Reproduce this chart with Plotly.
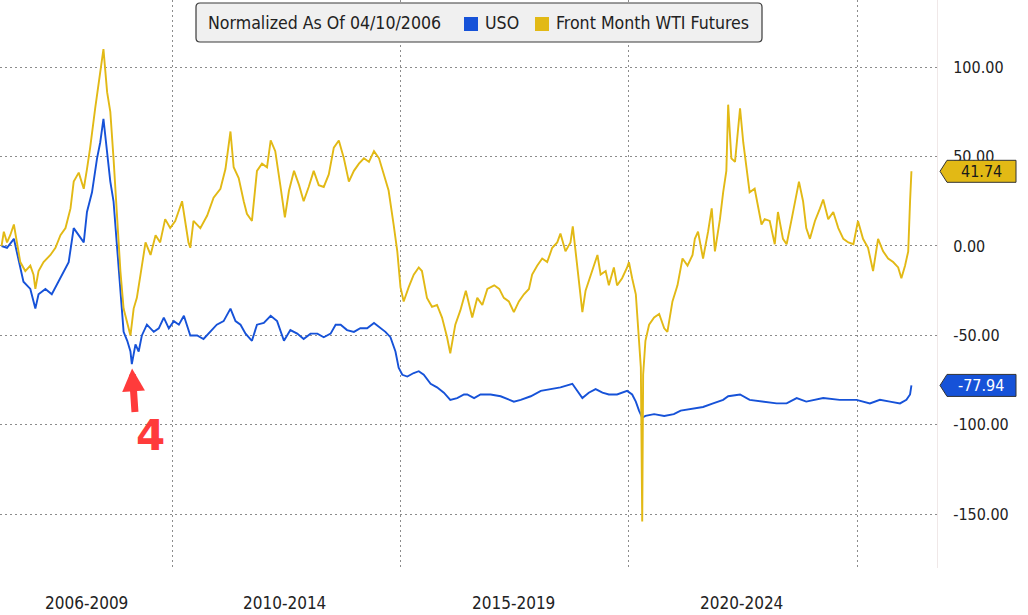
import pandas as pd
import plotly.graph_objects as go

# ---------------- data (decimal-year time, normalized % change) ----------------
wti_t = [2006.27, 2006.32, 2006.39, 2006.46, 2006.54, 2006.61, 2006.68, 2006.79, 2006.90, 2006.97,
         2007.01, 2007.08, 2007.19, 2007.34, 2007.45, 2007.56, 2007.67, 2007.78, 2007.85, 2007.96,
         2008.07, 2008.14, 2008.21, 2008.32, 2008.43, 2008.50, 2008.58, 2008.65, 2008.72, 2008.80,
         2008.87, 2008.94, 2009.02, 2009.09, 2009.16, 2009.23, 2009.31, 2009.42, 2009.53, 2009.64,
         2009.74, 2009.85, 2009.96, 2010.07, 2010.22, 2010.36, 2010.40, 2010.47, 2010.62, 2010.77,
         2010.91, 2011.06, 2011.17, 2011.28, 2011.35, 2011.46, 2011.57, 2011.64, 2011.75, 2011.86,
         2011.97, 2012.08, 2012.16, 2012.26, 2012.37, 2012.47, 2012.56, 2012.67, 2012.78, 2012.88,
         2012.99, 2013.10, 2013.21, 2013.32, 2013.43, 2013.54, 2013.65, 2013.76, 2013.87, 2013.98,
         2014.09, 2014.20, 2014.31, 2014.42, 2014.53, 2014.64, 2014.74, 2014.85, 2014.93, 2015.00,
         2015.07, 2015.18, 2015.29, 2015.40, 2015.47, 2015.58, 2015.69, 2015.80, 2015.91, 2016.02,
         2016.09, 2016.20, 2016.31, 2016.43, 2016.57, 2016.68, 2016.79, 2016.90, 2017.05, 2017.16,
         2017.26, 2017.37, 2017.48, 2017.59, 2017.70, 2017.81, 2017.88, 2017.99, 2018.10, 2018.21,
         2018.32, 2018.43, 2018.50, 2018.61, 2018.72, 2018.77, 2018.83, 2018.91, 2018.98, 2019.05,
         2019.16, 2019.31, 2019.38, 2019.49, 2019.56, 2019.67, 2019.74, 2019.85, 2019.96, 2020.00,
         2020.07, 2020.15, 2020.22, 2020.26, 2020.29, 2020.31, 2020.36, 2020.44, 2020.55, 2020.66,
         2020.77, 2020.84, 2020.95, 2021.06, 2021.17, 2021.28, 2021.39, 2021.44, 2021.51, 2021.62,
         2021.73, 2021.81, 2021.88, 2021.99, 2022.06, 2022.13, 2022.17, 2022.24, 2022.32, 2022.43,
         2022.50, 2022.57, 2022.64, 2022.75, 2022.83, 2022.90, 2022.97, 2023.08, 2023.19, 2023.26,
         2023.37, 2023.45, 2023.56, 2023.67, 2023.72, 2023.81, 2023.88, 2023.96, 2024.07, 2024.18,
         2024.25, 2024.36, 2024.47, 2024.58, 2024.69, 2024.80, 2024.91, 2025.01, 2025.12, 2025.23,
         2025.34, 2025.45, 2025.56, 2025.67, 2025.78, 2025.89, 2025.96, 2026.04, 2026.11, 2026.15,
         2026.18]
wti_v = [0, 8, 2, 6, 12, 2, -9, -14, -11, -16,
         -24, -14, -9, -5, -1, 6, 10, 21, 36, 41,
         32, 43, 55, 77, 97, 110, 86, 75, 49, 12,
         -14, -35, -44, -50, -35, -29, -16, 2, -5, 6,
         2, 15, 10, 14, 25, 2, -1, 14, 10, 17,
         27, 32, 43, 64, 44, 38, 25, 18, 14, 42,
         46, 44, 59, 53, 34, 16, 31, 42, 34, 25,
         33, 42, 34, 33, 40, 55, 59, 49, 36, 42,
         46, 49, 47, 53, 49, 40, 31, 12, -3, -23,
         -31, -23, -16, -12, -14, -29, -34, -33, -40, -51,
         -60, -44, -36, -25, -40, -29, -33, -24, -22, -24,
         -29, -31, -37, -31, -27, -24, -16, -11, -7, -9,
         -1, 2, 7, -3, 2, 11, -3, -22, -37, -25,
         -16, -5, -16, -14, -22, -12, -22, -18, -12, -9,
         -18, -27, -53, -68, -154, -72, -53, -44, -40, -38,
         -46, -48, -31, -22, -7, -11, -5, 4, 8, -7,
         8, 21, -3, 15, 30, 42, 79, 49, 47, 77,
         58, 45, 30, 32, 21, 12, 15, 14, 1, 19,
         4, 1, 15, 30, 36, 25, 10, 4, 14, 21,
         26, 15, 19, 10, 4, 2, 1, 14, 4, -1,
         -14, 4, -3, -7, -9, -12, -18, -11, -3, 25,
         41.74]

uso_t = [2006.27, 2006.39, 2006.54, 2006.64, 2006.75, 2006.90, 2007.01, 2007.08, 2007.23, 2007.37,
         2007.52, 2007.63, 2007.74, 2007.85, 2007.96, 2008.07, 2008.14, 2008.25, 2008.36, 2008.43,
         2008.50, 2008.58, 2008.65, 2008.72, 2008.80, 2008.87, 2008.94, 2009.02, 2009.09, 2009.12,
         2009.20, 2009.27, 2009.34, 2009.45, 2009.60, 2009.71, 2009.82, 2009.93, 2010.04, 2010.15,
         2010.26, 2010.40, 2010.55, 2010.69, 2010.84, 2010.98, 2011.13, 2011.28, 2011.39, 2011.50,
         2011.61, 2011.75, 2011.86, 2012.01, 2012.16, 2012.30, 2012.45, 2012.59, 2012.74, 2012.88,
         2013.03, 2013.18, 2013.32, 2013.47, 2013.58, 2013.69, 2013.83, 2013.98, 2014.12, 2014.27,
         2014.42, 2014.56, 2014.67, 2014.78, 2014.89, 2014.96, 2015.04, 2015.15, 2015.29, 2015.40,
         2015.51, 2015.66, 2015.80, 2015.95, 2016.09, 2016.24, 2016.39, 2016.46, 2016.61, 2016.75,
         2016.97, 2017.19, 2017.41, 2017.48, 2017.63, 2017.85, 2018.07, 2018.29, 2018.50, 2018.76,
         2018.87, 2018.98, 2019.12, 2019.27, 2019.42, 2019.56, 2019.74, 2019.96, 2020.07, 2020.15,
         2020.22, 2020.29, 2020.36, 2020.55, 2020.77, 2020.98, 2021.13, 2021.35, 2021.62, 2021.84,
         2022.06, 2022.17, 2022.43, 2022.64, 2022.94, 2023.23, 2023.45, 2023.67, 2023.88, 2024.25,
         2024.61, 2024.98, 2025.27, 2025.49, 2025.71, 2025.93, 2026.07, 2026.15, 2026.18]
uso_v = [0, -1, 4, -7, -20, -24, -35, -27, -24, -27,
         -20, -14, -9, 10, 6, 2, 19, 30, 49, 58,
         71, 53, 36, 25, -1, -24, -48, -53, -59, -66,
         -55, -59, -50, -44, -48, -46, -40, -46, -42, -44,
         -39, -50, -50, -52, -48, -44, -42, -35, -42, -44,
         -49, -53, -44, -43, -39, -42, -53, -47, -49, -52,
         -49, -49, -51, -49, -44, -44, -47, -48, -46, -46,
         -43, -46, -48, -51, -59, -68, -72, -73, -71, -70,
         -72, -77, -79, -82, -86, -85, -83, -83, -85, -83,
         -83, -84, -86, -87, -86, -84, -81, -80, -79, -77,
         -81, -85, -82, -80, -82, -83, -83, -81, -83, -87,
         -92, -96, -95, -94, -95, -94, -92, -91, -90, -88,
         -86, -84, -83, -86, -87, -88, -88, -85, -87, -85,
         -86, -86, -88, -86, -87, -88, -86, -83, -77.94]

series_names = ["USO", "Front Month WTI Futures"]
legend_title = "Normalized As Of 04/10/2006"
period_labels = ["2006-2009", "2010-2014", "2015-2019", "2020-2024"]
period_centers = [2008.14, 2012.47, 2017.47, 2022.47]
boundaries = [2010, 2015, 2020, 2025]
y_ticks = [-150, -100, -50, 0, 50, 100]

BLUE = "#1652D8"
GOLD = "#E2B915"
FONT = "DejaVu Sans Condensed, Liberation Sans Narrow, Liberation Sans, sans-serif"


def yr(y):
    y0 = int(y)
    a = pd.Timestamp(y0, 1, 1)
    b = pd.Timestamp(y0 + 1, 1, 1)
    return a + (b - a) * (y - y0)


W, H = 1028, 615
ML, MR, MT, MB = 0, 91, 0, 47
PW, PH = W - ML - MR, H - MT - MB


def px(x):
    return x / PW


def py(y):
    return 1 - y / PH


fig = go.Figure()
fig.add_trace(go.Scatter(x=[yr(t) for t in uso_t], y=uso_v, mode="lines",
                         line=dict(color=BLUE, width=1.9), name=series_names[0], showlegend=False))
fig.add_trace(go.Scatter(x=[yr(t) for t in wti_t], y=wti_v, mode="lines",
                         line=dict(color=GOLD, width=1.9), name=series_names[1], showlegend=False))

shapes = []
annotations = []

# ---- legend box (manual, rounded) ----
def rounded_rect(x0, y0, x1, y1, r=4):
    rx, ry = r / PW, r / PH
    X0, X1 = px(x0), px(x1)
    Y0, Y1 = py(y0), py(y1)  # Y0 top (higher), Y1 bottom
    return (f"M {X0+rx},{Y0} L {X1-rx},{Y0} Q {X1},{Y0} {X1},{Y0-ry} "
            f"L {X1},{Y1+ry} Q {X1},{Y1} {X1-rx},{Y1} L {X0+rx},{Y1} "
            f"Q {X0},{Y1} {X0},{Y1+ry} L {X0},{Y0-ry} Q {X0},{Y0} {X0+rx},{Y0} Z")

shapes.append(dict(type="path", xref="paper", yref="paper", path=rounded_rect(196, 3, 762, 42),
                   fillcolor="#F0F0F0", line=dict(color="#3a3a3a", width=1.2), layer="above"))
shapes.append(dict(type="rect", xref="paper", yref="paper", x0=px(464), x1=px(478), y0=py(17), y1=py(31),
                   fillcolor=BLUE, line=dict(width=0), layer="above"))
shapes.append(dict(type="rect", xref="paper", yref="paper", x0=px(535), x1=px(549), y0=py(17), y1=py(31),
                   fillcolor=GOLD, line=dict(width=0), layer="above"))
for txt, xx in [(legend_title, 206), (series_names[0], 483), (series_names[1], 554)]:
    annotations.append(dict(xref="paper", yref="paper", x=px(xx), y=py(23), text=txt, showarrow=False,
                            xanchor="left", yanchor="middle", font=dict(family=FONT, size=17.6, color="#222222")))

# ---- last value flags ----
half = 11 / (PH / (137.5 + 180))
for val, col, tcol in [(wti_v[-1], GOLD, "#1a1a1a"), (uso_v[-1], BLUE, "#ffffff")]:
    path = (f"M {px(940)},{val} L {px(947)},{val+half} L {px(1016)},{val+half} "
            f"L {px(1016)},{val-half} L {px(947)},{val-half} Z")
    shapes.append(dict(type="path", xref="paper", yref="y", path=path, fillcolor=col,
                       line=dict(color="#333333", width=1), layer="above"))
    annotations.append(dict(xref="paper", yref="y", x=px(981), y=val, text=f"{val:.2f}", showarrow=False,
                            xanchor="center", yanchor="middle", font=dict(family=FONT, size=16, color=tcol)))

# ---- period labels under the axis ----
for lab, c in zip(period_labels, period_centers):
    annotations.append(dict(xref="x", yref="paper", x=yr(c), y=0, yshift=-35, text=lab, showarrow=False,
                            xanchor="center", yanchor="middle", font=dict(family=FONT, size=17, color="#222222")))

# ---- red arrow and "4" ----
annotations.append(dict(xref="x", yref="y", x=yr(2009.125), y=-68.5, ax=3, ay=45, text="",
                        showarrow=True, arrowhead=2, arrowsize=0.65, arrowwidth=7, arrowcolor="#FF3B3B"))
annotations.append(dict(xref="x", yref="y", x=yr(2009.52), y=-106, text="<b>4</b>", showarrow=False,
                        xanchor="center", yanchor="middle",
                        font=dict(family="DejaVu Sans, Liberation Sans, Arial, sans-serif", size=42, color="#FF3B3B")))

fig.update_layout(
    width=W, height=H,
    margin=dict(l=ML, r=MR, t=MT, b=MB),
    paper_bgcolor="white", plot_bgcolor="white",
    showlegend=False,
    shapes=shapes, annotations=annotations,
    xaxis=dict(range=[yr(2006.236), yr(2026.74)], tickvals=[yr(b) for b in boundaries],
               showticklabels=False, ticks="", showgrid=True, gridcolor="#8c8c8c",
               griddash="2px,3px", gridwidth=1, zeroline=False, showline=False),
    yaxis=dict(range=[-180, 137.5], side="right", tickvals=y_ticks,
               ticktext=[f"{v:.2f}" for v in y_ticks], ticks="", ticklabelstandoff=12,
               showgrid=True, gridcolor="#8c8c8c", griddash="2px,3px", gridwidth=1,
               zeroline=False, showline=True, linecolor="#f0e8e8", linewidth=1,
               tickfont=dict(family=FONT, size=16, color="#222222")),
    font=dict(family=FONT),
)

fig.write_html("out.html")
